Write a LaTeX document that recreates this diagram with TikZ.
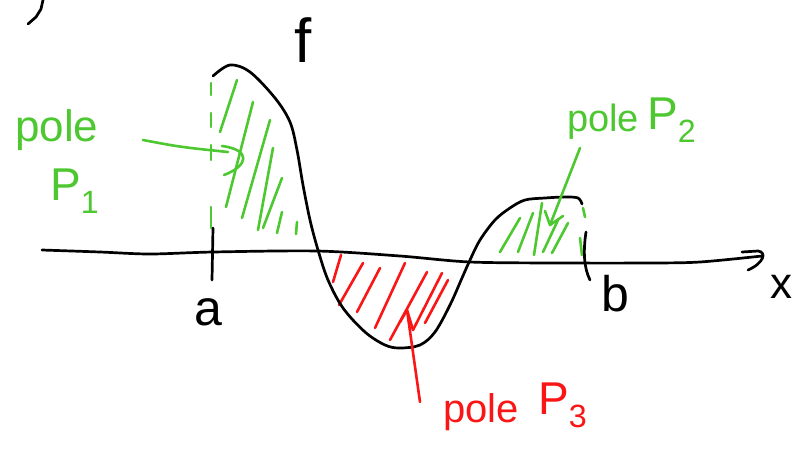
\documentclass[tikz,border=0pt]{standalone}
\usepackage{fontspec}
\setmainfont{Liberation Sans}
\definecolor{pgreen}{RGB}{78,200,48}
\definecolor{pred}{RGB}{250,22,22}
\begin{document}
\begin{tikzpicture}[x=1pt,y=-1pt,
  ink/.style={line width=2.7pt,line cap=round,line join=round,black},
  gink/.style={line width=2.6pt,line cap=round,line join=round,pgreen},
  rink/.style={line width=2.6pt,line cap=round,line join=round,pred},
  lab/.style={inner sep=0pt,anchor=base west},
  glab/.style={lab,text=pgreen,font=\fontsize{38}{40}\selectfont},
  rlab/.style={lab,text=pred,font=\fontsize{38}{40}\selectfont},
  blab/.style={inner sep=0pt,font=\fontsize{50}{52}\selectfont}]
\useasboundingbox (0,0) rectangle (798,451);
\fill[white] (0,0) rectangle (798,451);

% stray mark
\draw[ink] (28,24) -- (36,17) -- (41,9) -- (43,0);

% green hatching P1
\foreach \a/\b in {{(237,80)}/{(220,132)},{(253,102)}/{(226,207)},{(270,120)}/{(242,218)},
  {(273,148)}/{(258,230)},{(282,178)}/{(263,228)},{(282,212)}/{(277,233)},{(297,222)}/{(296,234)}}
  \draw[gink] \a -- \b;
\foreach \a/\b in {83/95,113/127,145/160,207/228}
  \draw[gink] (211,\a) -- (211,\b);

% red hatching P3
\foreach \a/\b in {{(341,255)}/{(333,282)},{(363,263)}/{(339,305)},{(380,268)}/{(357,312)},
  {(405,263)}/{(375,328)},{(427,272)}/{(390,340)},{(442,273)}/{(413,330)},{(448,280)}/{(425,323)}}
  \draw[rink] \a -- \b;

% green hatching P2
\foreach \a/\b in {{(520,218)}/{(500,252)},{(533,213)}/{(518,252)},{(542,203)}/{(534,255)},
  {(558,220)}/{(543,252)},{(568,223)}/{(552,253)},{(583,208)}/{(585,217)},{(580,238)}/{(582,255)}}
  \draw[gink] \a -- \b;

% axis
\draw[ink] plot[smooth,tension=0.5] coordinates {(42,250) (100,252) (150,254) (213,252) (317,251) (400,256) (470,262) (560,263) (650,263) (700,262) (762,256)};
\draw[ink] (742,252) -- (758,251) .. controls (767,252) and (764,263) .. (748,270);

% ticks
\draw[ink] (213,228) -- (212,280);
\draw[ink] (586,232) .. controls (583,252) and (584,268) .. (590,280);

% function f
\draw[ink] plot[smooth,tension=0.55] coordinates {(213,76) (230,65) (250,72) (275,98) (290,122) (297,150) (303,185) (310,220) (318,250) (328,280) (343,308) (365,332) (385,345) (400,348) (420,345) (435,332) (450,305) (462,278) (470,260) (480,240) (495,220) (510,208) (525,200) (545,198) (565,197) (578,198) (582,204)};

% labels
\node[blab,font=\fontsize{62}{64}\selectfont] (f) at (303,40) {f};
\node[blab] (a) at (208,312) {a};
\node[blab] (b) at (615,294) {b};
\node[blab,font=\fontsize{44}{46}\selectfont] (x) at (781,287) {x};

\node[glab,font=\fontsize{44}{46}\selectfont] (p1a) at (15,141) {pole};
\node[glab,font=\fontsize{46}{48}\selectfont] (p1b) at (50,200) {P\textsubscript{1}};
\node[glab] (p2a) at (567,131) {pole};
\node[glab,font=\fontsize{46}{48}\selectfont] (p2b) at (647,129) {P\textsubscript{2}};
\node[rlab,font=\fontsize{40}{42}\selectfont] (p3a) at (443,422) {pole};
\node[rlab,font=\fontsize{46}{48}\selectfont] (p3b) at (538,414) {P\textsubscript{3}};

% arrows
\coordinate (s1) at (143,140);
\coordinate (t1) at (228,152);
\draw[gink] (s1) .. controls (180,147) .. (t1);
\draw[gink] (222,146) .. controls (252,150) and (248,166) .. (224,175);

\coordinate (s2) at (580,148);
\coordinate (t2) at (550,225);
\draw[gink] (s2) -- (t2);
\draw[gink] (545,211) -- (t2) -- (563,216);

\coordinate (s3) at (420,402);
\coordinate (t3) at (407,310);
\draw[rink] (s3) -- (t3);
\draw[rink] (400,322) -- (t3) -- (413,330);
\end{tikzpicture}
\end{document}
